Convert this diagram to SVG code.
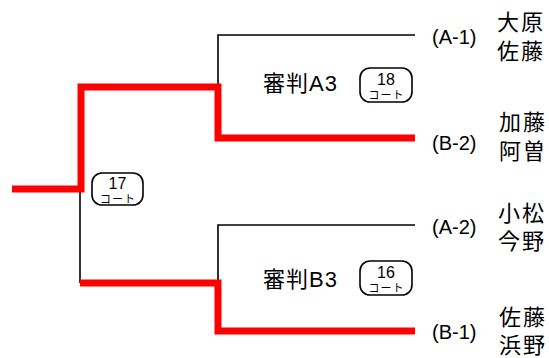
<svg xmlns="http://www.w3.org/2000/svg" width="549" height="358" viewBox="0 0 549 358">
<style>
.blk{stroke:#000;stroke-width:1.6;fill:none}
.red{stroke:#ff0000;stroke-width:7;fill:none;stroke-linejoin:miter}
.t{font-family:"Liberation Sans","Noto Sans CJK JP",sans-serif;fill:#000}
.lab{font-size:20px}
.nm{font-size:22px;letter-spacing:2px}
.ref{font-size:22px;letter-spacing:1px}
.bx{fill:#fff;stroke:#000;stroke-width:1.6}
.num{font-size:16px;text-anchor:middle}
.ct{font-size:11px;text-anchor:middle;letter-spacing:1px}
</style>
<rect width="549" height="358" fill="#fff"/>
<g id="connectors">
<path class="blk" d="M80,189 V283"/>
<path class="blk" d="M218,87 V35 H415"/>
<path class="blk" d="M218,283 V225 H415"/>
<path class="red" d="M12,189 H81 V87 H218 V138 H415"/>
<path class="red" d="M80,283 H218 V331 H415"/>
</g>
<g id="court17">
<rect class="bx" x="92" y="173" width="51" height="32" rx="10"/>
<text class="t num" x="117.5" y="189">17</text>
<text class="t ct" x="118" y="203">コート</text>
</g>
<g id="referee-A3">
<text class="t ref" x="263" y="91">審判A3</text>
<rect class="bx" x="360" y="68" width="52" height="34" rx="10"/>
<text class="t num" x="386" y="85">18</text>
<text class="t ct" x="386.5" y="99">コート</text>
</g>
<g id="referee-B3">
<text class="t ref" x="263" y="287">審判B3</text>
<rect class="bx" x="360" y="261" width="52" height="34" rx="10"/>
<text class="t num" x="386" y="278">16</text>
<text class="t ct" x="386.5" y="292">コート</text>
</g>
<g id="A-1">
<text class="t lab" x="432" y="44">(A-1)</text>
<text class="t nm" x="497" y="30">大原</text>
<text class="t nm" x="497" y="59">佐藤</text>
</g>
<g id="B-2">
<text class="t lab" x="432" y="150">(B-2)</text>
<text class="t nm" x="499" y="130">加藤</text>
<text class="t nm" x="499" y="159">阿曽</text>
</g>
<g id="A-2">
<text class="t lab" x="432" y="234">(A-2)</text>
<text class="t nm" x="498" y="221">小松</text>
<text class="t nm" x="498" y="249">今野</text>
</g>
<g id="B-1">
<text class="t lab" x="432" y="339">(B-1)</text>
<text class="t nm" x="499" y="325">佐藤</text>
<text class="t nm" x="499" y="353">浜野</text>
</g>
</svg>
